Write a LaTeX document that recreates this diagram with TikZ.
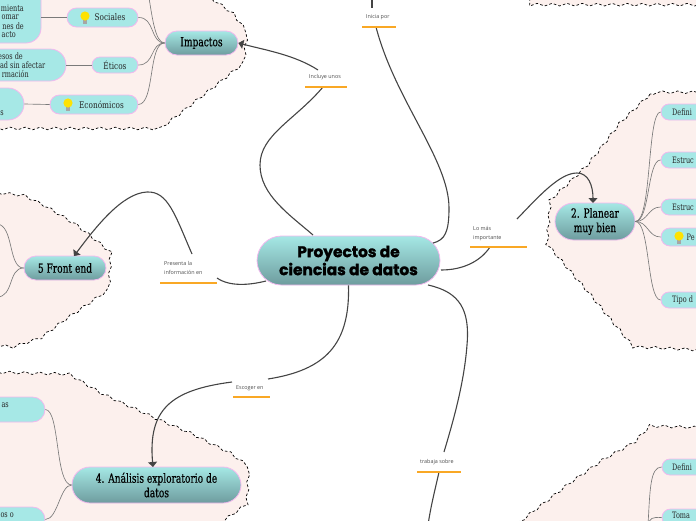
\documentclass[tikz,border=0pt]{standalone}
\usepackage{fontspec}
\usetikzlibrary{arrows.meta,shapes.misc,decorations.pathmorphing}
\newfontfamily\slabfont[FakeStretch=0.72,FakeBold=0.4]{DejaVu Serif}
\newfontfamily\flatfont[FakeStretch=0.8]{DejaVu Serif}
\newfontfamily\bodyfont[FakeStretch=0.74]{DejaVu Serif}
\newfontfamily\titlefont[BoldFeatures={FakeBold=1.6}]{Poppins}
\newfontfamily\labelfont{Open Sans}
\definecolor{cloudfill}{HTML}{FCF0ED}
\definecolor{pinkline}{HTML}{F2B8EE}
\definecolor{flatfill}{HTML}{A6E8E6}
\definecolor{gradtop}{HTML}{A5E8E5}
\definecolor{gradbot}{HTML}{6E9C9E}
\definecolor{linkcol}{HTML}{444444}
\definecolor{twig}{HTML}{7A7A7A}
\definecolor{ruleor}{HTML}{F9A825}
\tikzset{
  x=1pt,y=-1pt,
  cloud shape/.style={fill=cloudfill,draw=black,line width=.7pt,dash pattern=on 2.6pt off 2.2pt,
    decorate,decoration={snake,segment length=15pt,amplitude=1.3pt}},
  flatbox/.style={rounded rectangle,fill=flatfill,draw=pinkline,line width=.8pt,inner sep=0pt,
    font=\flatfont\fontsize{9.2}{10}\selectfont,text=black!85},
  gradbox/.style={rounded rectangle,top color=gradtop,bottom color=gradbot,draw=pinkline,line width=.8pt,inner sep=0pt,
    font=\slabfont\fontsize{12.6}{14.5}\selectfont,align=center,text=black},
  bodytext/.style={inner sep=0pt,font=\bodyfont\fontsize{8.8}{10}\selectfont,text=black!85},
  linklabel/.style={inner sep=0pt,font=\labelfont\fontsize{5.4}{9}\selectfont,text=black!70,align=left},
  link/.style={draw=linkcol,line width=1.1pt},
  linkarrow/.style={link,-{Triangle[width=9pt,length=5pt]}},
  twigline/.style={draw=twig,line width=.65pt},
  bulb/.pic={
    \fill[black!35] (-2,3) rectangle (2,7);
    \fill[yellow!85!orange] (0,-1) circle (4.6);
  }
}
\begin{document}
\begin{tikzpicture}
\clip (0,0) rectangle (696,520);
% clouds
\path[cloud shape] (205,-6) -- (228,10) -- (243,30) -- (240,60) -- (205,88) -- (155,127) -- (0,127) -- (-10,127) -- (-10,-6) -- cycle;
\path[cloud shape] (-10,192) -- (20,195) -- (40,205) -- (75,226) -- (110,254) -- (108,287) -- (60,320) -- (40,335) -- (10,345) -- (-10,343) -- cycle;
\path[cloud shape] (-10,372) -- (65,374) -- (100,395) -- (150,418) -- (190,435) -- (230,455) -- (245,466) -- (243,505) -- (215,525) -- (-10,525) -- cycle;
\path[cloud shape] (650,94) -- (620,123) -- (590,162) -- (553,197) -- (550,240) -- (593,290) -- (640,347) -- (705,350) -- (705,94) -- cycle;
\path[cloud shape] (527,-6) -- (530,3) -- (705,3) -- (705,-6) -- cycle;
\path[cloud shape] (515,526) -- (535,510) -- (570,483) -- (600,462) -- (630,445) -- (647,427) -- (705,429) -- (705,526) -- cycle;
% main node
\node[gradbox,minimum width=183pt,minimum height=49pt,font=\titlefont\bfseries\fontsize{15.4}{18}\selectfont] (center) at (348.5,260.5) {Proyectos de\\ciencias de datos};
% impactos
\node[gradbox,minimum width=73pt,minimum height=24pt] (impactos) at (201.5,43) {Impactos};
\node[flatbox,minimum width=71pt,minimum height=19pt] (sociales) at (102.5,17.5) {\hspace*{15pt}Sociales};
\pic at (85,17) {bulb};
\node[flatbox,minimum width=46pt,minimum height=16pt] (eticos) at (115,65) {Éticos};
\node[flatbox,minimum width=88pt,minimum height=19pt] (economicos) at (94,104.5) {\hspace*{15pt}Económicos};
\pic at (68,104) {bulb};
\node[flatbox,rectangle,rounded corners=15pt,minimum width=100pt,minimum height=86pt] (boxa) at (-9,0) {};
\node[flatbox,minimum width=110pt,minimum height=32pt] (boxb) at (11,65) {};
\node[flatbox,minimum width=100pt,minimum height=32pt] (boxc) at (-26,104) {};
\node[bodytext,anchor=east] (ta) at (24,8.5) {mienta};
\node[bodytext,anchor=east] (tb) at (19,17.5) {omar};
\node[bodytext,anchor=east] (tc) at (24,26) {nes de};
\node[bodytext,anchor=east] (td) at (16,35) {acto};
\node[bodytext,anchor=east] (te) at (23,56) {esos de};
\node[bodytext,anchor=east] (tf) at (45.5,65) {ad sin afectar};
\node[bodytext,anchor=east] (tg) at (29,74) {rmación};
\node[bodytext,anchor=east] (th) at (4,113) {s};
% front end
\node[gradbox,minimum width=82pt,minimum height=24pt] (front) at (65,268) {5 Front end};
% analisis
\node[gradbox,minimum width=169pt,minimum height=36pt] (analisis) at (156.5,485) {4. Análisis exploratorio de\\datos};
\node[flatbox,minimum width=90pt,minimum height=25pt] (boxd) at (0,409.5) {};
\node[flatbox,minimum width=90pt,minimum height=25pt] (boxe) at (0,519.5) {};
\node[bodytext,anchor=east] (ti) at (9,405.5) {as};
\node[bodytext,anchor=east] (tj) at (14,515) {os o};
% planear
\node[gradbox,minimum width=80pt,minimum height=37pt] (planear) at (595,221.5) {2. Planear\\muy bien};
\node[flatbox,minimum width=110pt,minimum height=16pt] (p1) at (716,112) {};
\node[flatbox,minimum width=110pt,minimum height=16pt] (p2) at (716,160) {};
\node[flatbox,minimum width=110pt,minimum height=16pt] (p3) at (716,207) {};
\node[flatbox,minimum width=110pt,minimum height=18pt] (p4) at (716,237) {};
\node[flatbox,minimum width=110pt,minimum height=16pt] (p5) at (716,300) {};
\node[bodytext,anchor=west] (q1) at (672,112) {Defini};
\node[bodytext,anchor=west] (q2) at (672,160) {Estruc};
\node[bodytext,anchor=west] (q3) at (672,207) {Estruc};
\pic at (679,237) {bulb};
\node[bodytext,anchor=west] (q4) at (686.5,237) {Pe};
\node[bodytext,anchor=west] (q5) at (672,300) {Tipo d};
% lower right
\node[flatbox,minimum width=110pt,minimum height=16pt] (r1) at (717,467) {};
\node[flatbox,minimum width=110pt,minimum height=17pt] (r2) at (717,517.5) {};
\node[bodytext,anchor=west] (s1) at (672,467) {Defini};
\node[bodytext,anchor=west] (s2) at (672,515) {Toma};
% labels
\node[linklabel,anchor=west] (linicia) at (366,17) {Inicia por};
\node[linklabel,anchor=west] (lincluye) at (309,77) {Incluye unos};
\node[linklabel,anchor=west] (lpres) at (164,268) {Presenta la\\información en};
\node[linklabel,anchor=west] (lmas) at (473,233.5) {Lo más\\importante};
\node[linklabel,anchor=west] (lesc) at (236,388) {Escoger en};
\node[linklabel,anchor=west] (ltra) at (420,462) {trabaja sobre};
\coordinate (uia) at (362,27); \coordinate (uib) at (396,27);
\coordinate (uca) at (305,87); \coordinate (ucb) at (347,87);
\coordinate (upa) at (160,283); \coordinate (upb) at (217,283);
\coordinate (uma) at (470,247); \coordinate (umb) at (527,247);
\coordinate (uea) at (233,397); \coordinate (ueb) at (270,397);
\coordinate (uta) at (417,472); \coordinate (utb) at (461,472);
% twigs impactos
\draw[twigline] (impactos.west) .. controls (150,43) and (155,17) .. (sociales.east);
\draw[twigline] (impactos.west) .. controls (150,43) and (155,65) .. (eticos.east);
\draw[twigline] (impactos.west) .. controls (148,43) and (155,104) .. (economicos.east);
\coordinate (topt) at (149,-2);
\draw[twigline] (impactos.west) .. controls (155,43) and (152,15) .. (topt);
\draw[twigline] (sociales.west) -- (boxa.east |- sociales.west);
\draw[twigline] (eticos.west) -- (boxb.east);
\draw[twigline] (economicos.west) -- (boxc.east);
% twigs front
\coordinate (fa) at (-3,224); \coordinate (fb) at (-3,297);
\draw[twigline] (front.west) .. controls (8,268) and (14,225) .. (fa);
\draw[twigline] (front.west) .. controls (8,268) and (14,297) .. (fb);
% twigs analisis
\draw[twigline] (analisis.west) .. controls (55,485) and (60,410) .. (boxd.east);
\draw[twigline] (analisis.west) .. controls (60,485) and (58,519) .. (boxe.east);
% twigs planear
\draw[twigline] (planear.east) .. controls (652,221.5) and (647,112) .. (p1.west);
\draw[twigline] (planear.east) .. controls (650,221.5) and (647,160) .. (p2.west);
\draw[twigline] (planear.east) .. controls (648,221.5) and (648,207) .. (p3.west);
\draw[twigline] (planear.east) .. controls (648,221.5) and (648,237) .. (p4.west);
\draw[twigline] (planear.east) .. controls (650,221.5) and (647,300) .. (p5.west);
% twigs lower right
\coordinate (rr) at (648,525);
\draw[twigline] (rr) .. controls (650,490) and (650,467) .. (r1.west);
\draw[twigline] (rr) .. controls (650,518) and (652,517) .. (r2.west);
% links
\coordinate (ei) at (372,-2); \coordinate (ef) at (372,8);
\draw[link] (ei) -- (ef);
\coordinate (ia) at (376,27); \coordinate (cne) at (433,243);
\draw[link] (ia) .. controls (395,100) and (449,160) .. (449,208) .. controls (449,232) and (445,240) .. (cne);
\coordinate (ca) at (323,87); \coordinate (cnw) at (313,235);
\draw[link] (ca) .. controls (295,120) and (260,135) .. (260,165) .. controls (260,195) and (290,215) .. (cnw);
\coordinate (cb) at (318,70);
\draw[linkarrow] (cb) .. controls (295,55) and (265,50) .. (impactos.east);
\coordinate (csw) at (266,281);
\draw[link] (csw) .. controls (250,285) and (230,287) .. (217,278);
\coordinate (pa) at (192,254); \coordinate (fne) at (74,256);
\draw[linkarrow] (pa) .. controls (175,215) and (168,191) .. (147,192) .. controls (122,193) and (95,228) .. (fne);
\coordinate (ce) at (268,379);
\draw[link] (center.south) .. controls (350,345) and (325,370) .. (ce);
\coordinate (ea) at (232,382); \coordinate (ae) at (153,467);
\draw[linkarrow] (ea) .. controls (170,390) and (148,410) .. (ae);
\coordinate (cse) at (441,270); \coordinate (me) at (490,247);
\draw[link] (cse) .. controls (462,270) and (480,262) .. (me);
\coordinate (ma) at (517,219); \coordinate (pe) at (593,203);
\draw[linkarrow] (ma) .. controls (540,195) and (560,173) .. (577,173) .. controls (588,173) and (593,185) .. (pe);
\coordinate (csr) at (428,285); \coordinate (tb1) at (444,452);
\draw[link] (csr) .. controls (460,292) and (470,310) .. (467,345) .. controls (464,385) and (452,425) .. (tb1);
\coordinate (ta1) at (439,472); \coordinate (ta2) at (428,525);
\draw[link] (ta1) .. controls (435,490) and (431,505) .. (ta2);
% orange rules
\fill[ruleor] (uia) ++(0,-.6) rectangle ([yshift=-.6pt]uib);
\fill[ruleor] (uca) ++(0,-.6) rectangle ([yshift=-.6pt]ucb);
\fill[ruleor] (upa) ++(0,-.6) rectangle ([yshift=-.6pt]upb);
\fill[ruleor] (uma) ++(0,-.6) rectangle ([yshift=-.6pt]umb);
\fill[ruleor] (uea) ++(0,-.6) rectangle ([yshift=-.6pt]ueb);
\fill[ruleor] (uta) ++(0,-.6) rectangle ([yshift=-.6pt]utb);
\end{tikzpicture}
\end{document}
